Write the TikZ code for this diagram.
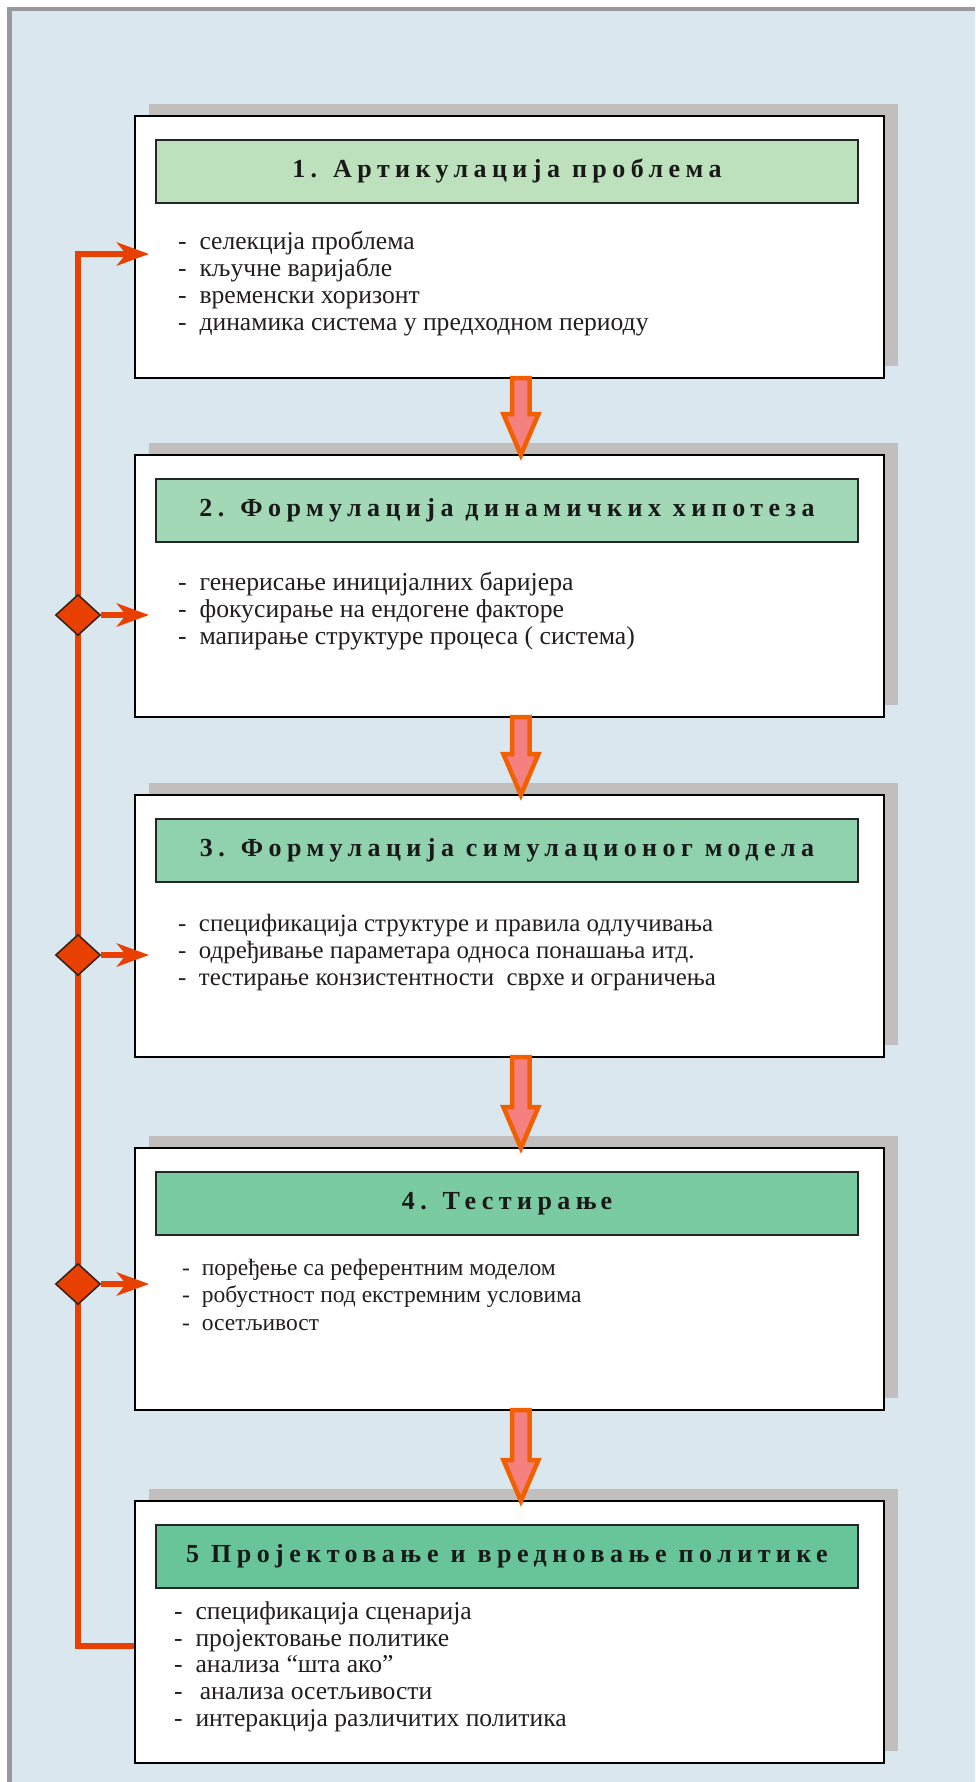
\documentclass[tikz,border=0pt]{standalone}
\usepackage{fontspec}
\setmainfont{Liberation Serif}
\newfontfamily\headfont[LetterSpace=21]{Liberation Serif}
\usetikzlibrary{arrows.meta,shapes.geometric,shadows,calc}

\definecolor{bgblue}{RGB}{219,231,239}
\definecolor{framegray}{RGB}{153,153,153}
\definecolor{shadowgray}{RGB}{192,191,190}
\definecolor{hcolA}{RGB}{188,225,188}
\definecolor{hcolB}{RGB}{162,216,181}
\definecolor{hcolC}{RGB}{144,209,174}
\definecolor{hcolD}{RGB}{122,203,161}
\definecolor{hcolE}{RGB}{104,197,154}
\definecolor{fbred}{RGB}{232,64,0}
\definecolor{arrowline}{RGB}{240,96,0}
\definecolor{arrowfill}{RGB}{245,128,128}
\definecolor{darkline}{RGB}{50,30,20}
\definecolor{inktext}{RGB}{35,30,30}

\tikzset{
  stagebox/.style={draw=black, line width=1.8pt, fill=white,
    minimum width=749pt, minimum height=262pt, inner sep=0pt, anchor=north west,
    drop shadow={shadow xshift=14pt, shadow yshift=12pt, fill=shadowgray, opacity=1}},
  headbar/.style={draw=black!85, line width=1.8pt, minimum width=702pt,
    minimum height=63pt, inner sep=0pt, anchor=north, text=black!90,
    font=\headfont\fontsize{26}{30}\selectfont\bfseries},
  item/.style={anchor=mid west, inner sep=0pt, text=inktext,
    font=\fontsize{#1}{27}\selectfont},
  item/.default=25.5,
  feedback/.style={draw=fbred, line width=6pt},
  feedarrow/.style={feedback, -{Stealth[length=32pt,width=23pt,inset=9pt]}},
  junction/.style={diamond, draw=darkline, line width=1.5pt, fill=fbred,
    minimum width=45pt, minimum height=41pt, inner sep=0pt},
  flowarrow/.style={draw=arrowline, fill=arrowfill, line width=4.5pt, line join=miter},
}

% thick hollow arrow from the bottom of one stage to the top of the next
\newcommand\stagearrow[2]{%
  \path[flowarrow] let \p1=($(#1.south)+(11.5pt,0)$), \p2=(#2.north) in
    (\x1-8.75pt,\y1+0.75pt) -- (\x1+8.75pt,\y1+0.75pt) -- (\x1+8.75pt,\y2+40pt)
    -- (\x1+17.5pt,\y2+40pt) -- (\x1,\y2-1pt) -- (\x1-17.5pt,\y2+40pt)
    -- (\x1-8.75pt,\y2+40pt) -- cycle;}

\begin{document}
\begin{tikzpicture}[x=1pt,y=-1pt]
\useasboundingbox (0,0) rectangle (975,1782);
\fill[white] (0,0) rectangle (975,1782);
\fill[bgblue] (7,7) rectangle (975,1782);
\draw[framegray, line width=4.5pt] (9.25,1782) -- (9.25,9.25) -- (975,9.25);

% stages
\node[stagebox] (b1) at (134,115) {};
\node[stagebox] (b2) at (134,454) {};
\node[stagebox] (b3) at (134,794) {};
\node[stagebox] (b4) at (134,1147) {};
\node[stagebox] (b5) at (134,1500) {};

\node[headbar, fill=hcolA] (h1) at (507,139) {1. Артикулација проблема};
\node[headbar, fill=hcolB] (h2) at (507,478) {2. Формулација динамичких хипотеза};
\node[headbar, fill=hcolC] (h3) at (507,818) {3. Формулација симулационог модела};
\node[headbar, fill=hcolD] (h4) at (507,1171) {4. Тестирањ\kern4pt е};
\node[headbar, fill=hcolE] (h5) at (507,1524) {5 Пројектовањ\kern6pt е и вредновањ\kern6pt е политике};

\foreach \txt [count=\i] in {селекција проблема, кључне варијабле,
    временски хоризонт, динамика система у предходном периоду}
  \node[item=25.6] (p1-\i) at (178,{247+27*(\i-1)}) {-~~\txt};
\foreach \txt [count=\i] in {генерисање иницијалних баријера,
    фокусирање на ендогене факторе, мапирање структуре процеса ( система)}
  \node[item=25.7] (p2-\i) at (178,{588+27*(\i-1)}) {-~~\txt};
\foreach \txt [count=\i] in {спецификација структуре и правила одлучивања,
    одређивање параметара односа понашања итд.,
    тестирање конзистентности~~сврхе и ограничења}
  \node[item=24.9] (p3-\i) at (178,{929+27*(\i-1)}) {-~~\txt};
\foreach \txt [count=\i] in {поређење са референтним моделом,
    робустност под екстремним условима, осетљивост}
  \node[item=23.5] (p4-\i) at (182,{1273+27.5*(\i-1)}) {-~~\txt};
\foreach \txt [count=\i] in {спецификација сценарија, пројектовање политике,
    анализа “шта ако”, \,анализа осетљивости, интеракција различитих политика}
  \node[item=25.6] (p5-\i) at (174,{1617+26.8*(\i-1)}) {-~~\txt};

% flow between stages
\stagearrow{b1}{b2}
\stagearrow{b2}{b3}
\stagearrow{b3}{b4}
\stagearrow{b4}{b5}

% feedback loop
\coordinate (c0) at (78,1646);
\coordinate (c1) at (78,254);
\coordinate (t1) at (149,254);
\draw[feedarrow] (b5.west |- c0) -- (c0) -- (c1) -- (t1);

\node[junction] (d2) at (78,615) {};
\node[junction] (d3) at (78,955) {};
\node[junction] (d4) at (78,1284) {};
\coordinate (t2) at (149,615);
\coordinate (t3) at (149,955);
\coordinate (t4) at (149,1284);
\draw[feedarrow] (d2.east) -- (t2);
\draw[feedarrow] (d3.east) -- (t3);
\draw[feedarrow] (d4.east) -- (t4);
\end{tikzpicture}
\end{document}
